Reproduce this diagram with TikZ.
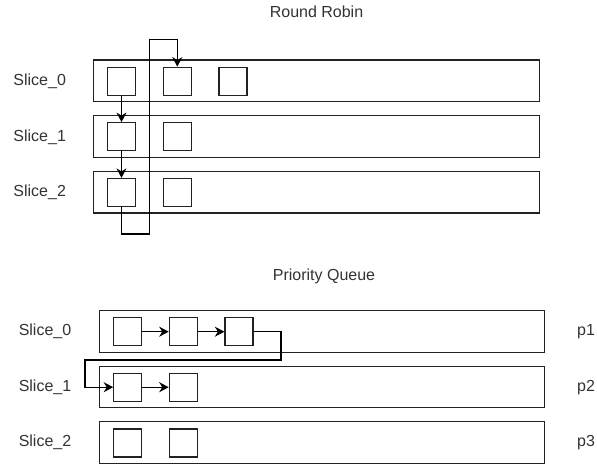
\documentclass[tikz,border=0pt]{standalone}
\usepackage{fontspec}
\setmainfont{Liberation Sans}
\usetikzlibrary{arrows.meta}
\definecolor{txt}{HTML}{333333}
\definecolor{ln}{HTML}{222222}
\tikzset{
  slicebox/.style={draw=ln, line width=1.2pt, minimum width=446pt, minimum height=41.5pt, inner sep=0pt},
  slicebox2/.style={draw=ln, line width=1.2pt, minimum width=445pt, minimum height=41.5pt, inner sep=0pt},
  item/.style={draw=ln, line width=1.2pt, minimum width=28pt, minimum height=28pt, inner sep=0pt},
  lbl/.style={text=txt, font=\fontsize{16pt}{18pt}\selectfont, inner sep=0pt},
  arr/.style={draw=black, line width=1.2pt, -{Stealth[length=9.5pt,width=10pt,inset=3pt]}},
}
\begin{document}
\begin{tikzpicture}[x=1pt,y=-1pt]
\useasboundingbox (0,0) rectangle (597,467);
% Round Robin
\node[lbl] (t1) at (316.5,12) {Round Robin};
\node[slicebox] (r0) at (316.7,80.8) {};
\node[slicebox] (r1) at (316.7,136.5) {};
\node[slicebox] (r2) at (316.7,192.2) {};
\node[lbl] (ls0) at (39.7,81) {Slice\_0};
\node[lbl] (ls1) at (39.7,137) {Slice\_1};
\node[lbl] (ls2) at (39.7,192.5) {Slice\_2};
\node[item] (t00) at (121.5,81.2) {};
\node[item] (t01) at (177.3,81.2) {};
\node[item] (t02) at (233,81.2) {};
\node[item] (t10) at (121.5,136.7) {};
\node[item] (t11) at (177.3,136.7) {};
\node[item] (t20) at (121.5,192.5) {};
\node[item] (t21) at (177.3,192.5) {};
\coordinate (c1) at (149.3,234);
\coordinate (c2) at (177.3,39.3);
\draw[arr] (t00.south) -- (t10.north);
\draw[arr] (t10.south) -- (t20.north);
\draw[arr] (t20.south) |- (c1) |- (c2) -- (t01.north);
% Priority Queue
\node[lbl] (t2) at (324,276) {Priority Queue};
\node[slicebox2] (q0) at (321.8,331.5) {};
\node[slicebox2] (q1) at (321.8,387) {};
\node[slicebox2] (q2) at (321.8,442.5) {};
\node[lbl] (lq0) at (45,331.5) {Slice\_0};
\node[lbl] (lq1) at (45,387) {Slice\_1};
\node[lbl] (lq2) at (45,442.5) {Slice\_2};
\node[lbl] (p1) at (586,332) {p1};
\node[lbl] (p2) at (586,387.5) {p2};
\node[lbl] (p3) at (586,443) {p3};
\node[item] (b00) at (127.8,331.7) {};
\node[item] (b01) at (183.3,331.7) {};
\node[item] (b02) at (239,331.7) {};
\node[item] (b10) at (127.8,387.2) {};
\node[item] (b11) at (183.3,387.2) {};
\node[item] (b20) at (127.8,443) {};
\node[item] (b21) at (183.3,443) {};
\coordinate (c3) at (281,360);
\coordinate (c4) at (85,360);
\draw[arr] (b00.east) -- (b01.west);
\draw[arr] (b01.east) -- (b02.west);
\draw[arr] (b10.east) -- (b11.west);
\draw[arr] (b02.east) -| (c3) -- (c4) |- (b10.west);
\end{tikzpicture}
\end{document}
